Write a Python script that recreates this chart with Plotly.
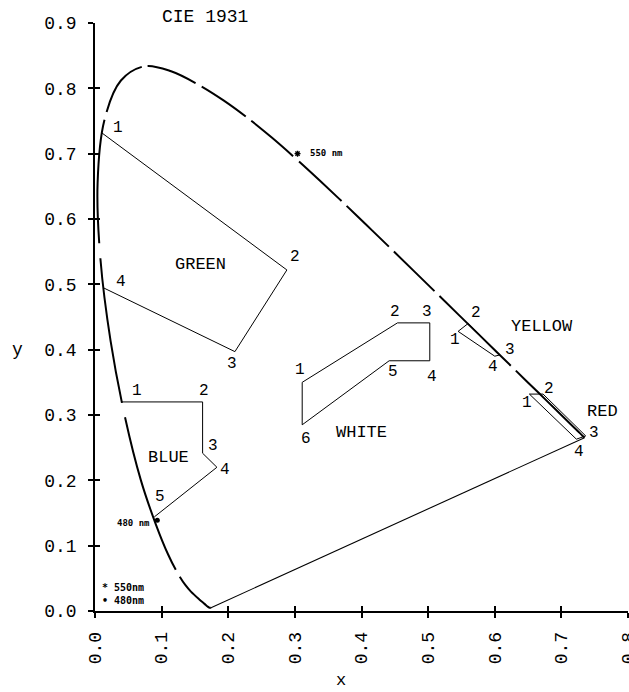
import plotly.graph_objects as go

# ---------------- data ----------------
WAVELENGTH = [380, 390, 400, 410, 420, 430, 440, 450, 460, 465, 470, 475, 480, 485,
              490, 495, 500, 505, 510, 515, 520, 525, 530, 535, 540, 545, 550, 555,
              560, 565, 570, 575, 580, 585, 590, 595, 600, 605, 610, 615, 620, 625,
              630, 635, 640, 645, 650, 660, 670, 680, 690, 700]
LOCUS_X = [0.1741, 0.1738, 0.1733, 0.1726, 0.1714, 0.1689, 0.1644, 0.1566, 0.1440, 0.1355,
           0.1241, 0.1096, 0.0913, 0.0687, 0.0454, 0.0235, 0.0082, 0.0039, 0.0139, 0.0389,
           0.0743, 0.1142, 0.1547, 0.1929, 0.2296, 0.2658, 0.3016, 0.3373, 0.3731, 0.4087,
           0.4441, 0.4788, 0.5125, 0.5448, 0.5752, 0.6029, 0.6270, 0.6482, 0.6658, 0.6801,
           0.6915, 0.7006, 0.7079, 0.7140, 0.7190, 0.7230, 0.7260, 0.7300, 0.7320, 0.7334,
           0.7344, 0.7347]
LOCUS_Y = [0.0050, 0.0049, 0.0048, 0.0048, 0.0051, 0.0069, 0.0109, 0.0177, 0.0297, 0.0399,
           0.0578, 0.0868, 0.1327, 0.2007, 0.2950, 0.4127, 0.5384, 0.6548, 0.7502, 0.8120,
           0.8338, 0.8262, 0.8059, 0.7816, 0.7543, 0.7243, 0.6923, 0.6589, 0.6245, 0.5896,
           0.5547, 0.5202, 0.4866, 0.4544, 0.4242, 0.3965, 0.3725, 0.3514, 0.3340, 0.3197,
           0.3083, 0.2993, 0.2920, 0.2859, 0.2809, 0.2770, 0.2740, 0.2700, 0.2680, 0.2666,
           0.2656, 0.2653]

GREEN_X = [0.010, 0.288, 0.210, 0.012]
GREEN_Y = [0.732, 0.522, 0.397, 0.495]
BLUE_X = [0.040, 0.1615, 0.1615, 0.183, 0.089]
BLUE_Y = [0.320, 0.320, 0.2415, 0.220, 0.144]
WHITE_X = [0.311, 0.454, 0.5025, 0.5025, 0.4415, 0.311]
WHITE_Y = [0.350, 0.441, 0.441, 0.383, 0.383, 0.285]
YELLOW_X = [0.545, 0.560, 0.608, 0.600]
YELLOW_Y = [0.428, 0.440, 0.392, 0.390]
RED_X = [0.652, 0.6725, 0.7365, 0.7225]
RED_Y = [0.332, 0.332, 0.268, 0.263]

REGION_NAMES = ["GREEN", "BLUE", "WHITE", "YELLOW", "RED"]
MARKER_NAMES = ["550 nm", "480 nm"]
MARKER_X = [0.304, 0.0935]
MARKER_Y = [0.700, 0.139]
LEGEND_TEXT = ["550nm", "480nm"]

X_TICKS = [0.0, 0.1, 0.2, 0.3, 0.4, 0.5, 0.6, 0.7, 0.8]
Y_TICKS = [0.0, 0.1, 0.2, 0.3, 0.4, 0.5, 0.6, 0.7, 0.8, 0.9]
TITLE = "CIE 1931"

# ---------------- layout / style ----------------
W, H = 629, 692
ML, MR, MT, MB = 95, 1, 23, 81
X_RANGE = [0.0, 0.8]
Y_RANGE = [0.0, 0.9]
PLOT_W = W - ML - MR
PLOT_H = H - MT - MB
FONT = "Liberation Mono"
SMALL_FONT = "DejaVu Sans Mono"
INK = "black"

# gaps in the spectral locus: (wavelength, start offset px, length px)
LOCUS_GAPS = [(470, -4, 8), (490, 1, 15), (500, 1, 15), (510, 1, 8), (520, -3, 6),
              (530, -3, 7), (540, -3, 7), (550, -4, 8), (560, -3, 7), (570, -3, 7),
              (580, -3, 7), (600, -3, 7)]

# label offsets (px right, px down) for the numbered vertices
LABEL_OFFSETS = {
    "GREEN": [(16, -5), (8, -13), (-3, 12), (18, -6)],
    "BLUE": [(15, -11), (1, -11), (10, -7), (8, 3), (6, -20)],
    "WHITE": [(-2, -12), (-2, -11), (-3, -11), (2, 16), (4, 11), (4, 14)],
    "YELLOW": [(-3, 9), (8, -11), (10, -5), (-2, 11)],
    "RED": [(-2, 9), (6, -5), (8, -3), (3, 13)],
}
REGION_TEXT_POS = {
    "GREEN": (0.159, 0.530), "BLUE": (0.110, 0.235), "WHITE": (0.400, 0.273),
    "YELLOW": (0.6705, 0.436), "RED": (0.762, 0.306),
}

SX = PLOT_W / (X_RANGE[1] - X_RANGE[0])
SY = PLOT_H / (Y_RANGE[1] - Y_RANGE[0])


# ---- replicate plotly's spline to place the locus gaps by arc length ----
def _tangent(p0, p1, p2, s=1.0):
    d1x, d1y = p0[0] - p1[0], p0[1] - p1[1]
    d2x, d2y = p2[0] - p1[0], p2[1] - p1[1]
    d1a = (d1x * d1x + d1y * d1y) ** 0.25
    d2a = (d2x * d2x + d2y * d2y) ** 0.25
    numx = (d2a * d2a * d1x - d1a * d1a * d2x) * s
    numy = (d2a * d2a * d1y - d1a * d1a * d2y) * s
    den1 = 3 * d2a * (d1a + d2a)
    den2 = 3 * d1a * (d1a + d2a)
    a = (p1[0] + (numx / den1 if den1 else 0), p1[1] + (numy / den1 if den1 else 0))
    b = (p1[0] - (numx / den2 if den2 else 0), p1[1] - (numy / den2 if den2 else 0))
    return a, b


def _bez_len(ctrl, n=60):
    def pt(t):
        if len(ctrl) == 3:
            p0, p1, p2 = ctrl
            u = 1 - t
            return (u * u * p0[0] + 2 * u * t * p1[0] + t * t * p2[0],
                    u * u * p0[1] + 2 * u * t * p1[1] + t * t * p2[1])
        p0, p1, p2, p3 = ctrl
        u = 1 - t
        return (u ** 3 * p0[0] + 3 * u * u * t * p1[0] + 3 * u * t * t * p2[0] + t ** 3 * p3[0],
                u ** 3 * p0[1] + 3 * u * u * t * p1[1] + 3 * u * t * t * p2[1] + t ** 3 * p3[1])
    L = 0.0
    prev = pt(0.0)
    for k in range(1, n + 1):
        c = pt(k / n)
        L += ((c[0] - prev[0]) ** 2 + (c[1] - prev[1]) ** 2) ** 0.5
        prev = c
    return L


def spline_arc_lengths(xs, ys):
    pts = [(x * SX, -y * SY) for x, y in zip(xs, ys)]
    n = len(pts)
    tans = [_tangent(pts[i - 1], pts[i], pts[i + 1]) for i in range(1, n - 1)]
    segs = [(pts[0], tans[0][0], pts[1])]
    for i in range(2, n - 1):
        segs.append((pts[i - 1], tans[i - 2][1], tans[i - 1][0], pts[i]))
    segs.append((pts[n - 2], tans[n - 3][1], pts[n - 1]))
    cum = [0.0]
    for sg in segs:
        cum.append(cum[-1] + _bez_len(sg))
    return cum


arc = spline_arc_lengths(LOCUS_X, LOCUS_Y)
dash_parts = []
cur = 0.0
for wl, off, g in LOCUS_GAPS:
    s0 = arc[WAVELENGTH.index(wl)] + off
    dash_parts += [max(s0 - cur, 0.1), g]
    cur = s0 + g
dash_parts += [arc[-1] - cur + 20, 1]
LOCUS_DASH = ",".join(f"{v:.2f}px" for v in dash_parts)

fig = go.Figure()

# line of purples
fig.add_trace(go.Scatter(x=[LOCUS_X[0], LOCUS_X[-1]], y=[LOCUS_Y[0], LOCUS_Y[-1]],
                         mode="lines", line=dict(color=INK, width=1.1),
                         hoverinfo="skip", showlegend=False))
# spectral locus
fig.add_trace(go.Scatter(x=LOCUS_X, y=LOCUS_Y, mode="lines",
                         line=dict(color=INK, width=2, shape="spline", smoothing=1,
                                   simplify=False, dash=LOCUS_DASH),
                         hoverinfo="skip", showlegend=False))

regions = {
    "GREEN": (GREEN_X, GREEN_Y, False),
    "BLUE": (BLUE_X, BLUE_Y, False),
    "WHITE": (WHITE_X, WHITE_Y, True),
    "YELLOW": (YELLOW_X, YELLOW_Y, True),
    "RED": (RED_X, RED_Y, True),
}
annotations = []
for name in REGION_NAMES:
    xs, ys, closed = regions[name]
    px = list(xs) + ([xs[0]] if closed else [])
    py = list(ys) + ([ys[0]] if closed else [])
    fig.add_trace(go.Scatter(x=px, y=py, mode="lines", line=dict(color=INK, width=1),
                             hoverinfo="skip", showlegend=False))
    for i, (vx, vy) in enumerate(zip(xs, ys)):
        dx, dy = LABEL_OFFSETS[name][i]
        annotations.append(dict(x=vx, y=vy, xref="x", yref="y", text=str(i + 1),
                                showarrow=False, xshift=dx, yshift=-dy,
                                xanchor="center", yanchor="middle",
                                font=dict(family=FONT, size=16, color=INK)))
    tx, ty = REGION_TEXT_POS[name]
    annotations.append(dict(x=tx, y=ty, xref="x", yref="y", text=name, showarrow=False,
                            xanchor="center", yanchor="middle",
                            font=dict(family=FONT, size=17, color=INK)))

# wavelength markers
fig.add_trace(go.Scatter(x=[MARKER_X[0]], y=[MARKER_Y[0]], mode="markers",
                         marker=dict(symbol="asterisk-open", size=5, color=INK,
                                     line=dict(color=INK, width=1.4)),
                         hoverinfo="skip", showlegend=False))
fig.add_trace(go.Scatter(x=[MARKER_X[1]], y=[MARKER_Y[1]], mode="markers",
                         marker=dict(symbol="circle", size=5, color=INK),
                         hoverinfo="skip", showlegend=False))
annotations.append(dict(x=MARKER_X[0], y=MARKER_Y[0], xref="x", yref="y",
                        text="<b>" + MARKER_NAMES[0] + "</b>", showarrow=False,
                        xanchor="left", yanchor="middle", xshift=10, yshift=1,
                        font=dict(family=SMALL_FONT, size=9, color=INK)))
annotations.append(dict(x=MARKER_X[1], y=MARKER_Y[1], xref="x", yref="y",
                        text="<b>" + MARKER_NAMES[1] + "</b>", showarrow=False,
                        xanchor="right", yanchor="middle", xshift=-5, yshift=-3,
                        font=dict(family=SMALL_FONT, size=9, color=INK)))

# legend-like key in the corner
for k, (sym, txt) in enumerate(zip(["*", "\u2022"], LEGEND_TEXT)):
    annotations.append(dict(x=(100 - ML) / PLOT_W, y=(24 - 13 * k) / PLOT_H,
                            xref="paper", yref="paper", xanchor="left", yanchor="middle",
                            text="<b>" + sym + " " + txt + "</b>", showarrow=False,
                            font=dict(family=SMALL_FONT, size=10, color=INK)))

# title and axis titles
annotations.append(dict(x=(205 - ML) / PLOT_W, y=1 + (MT - 17) / PLOT_H, xref="paper",
                        yref="paper", text=TITLE, showarrow=False,
                        xanchor="center", yanchor="middle",
                        font=dict(family=FONT, size=18, color=INK)))
annotations.append(dict(x=(17 - ML) / PLOT_W, y=(611 - 350) / PLOT_H, xref="paper",
                        yref="paper", text="y", showarrow=False,
                        xanchor="center", yanchor="middle",
                        font=dict(family=FONT, size=18, color=INK)))
annotations.append(dict(x=(341 - ML) / PLOT_W, y=-(680 - 611) / PLOT_H, xref="paper",
                        yref="paper", text="x", showarrow=False,
                        xanchor="center", yanchor="middle",
                        font=dict(family=FONT, size=17, color=INK)))

# dummy trace for the inner-tick overlay axes
fig.add_trace(go.Scatter(x=[None], y=[None], xaxis="x2", yaxis="y2",
                         hoverinfo="skip", showlegend=False))

axis_common = dict(showgrid=False, zeroline=False, linecolor=INK, linewidth=1.5,
                   tickcolor=INK, tickwidth=1.5, ticklen=5, automargin=False,
                   tickfont=dict(family=FONT, size=18, color=INK))
fig.update_layout(
    width=W, height=H, margin=dict(l=ML, r=MR, t=MT, b=MB, autoexpand=False),
    paper_bgcolor="white", plot_bgcolor="white",
    xaxis=dict(range=X_RANGE, tickvals=X_TICKS, ticktext=[f"{v:.1f}" for v in X_TICKS],
               ticks="outside", showline=True, tickangle=-90, ticklabelstandoff=7,
               ticklabeloverflow="allow", **axis_common),
    yaxis=dict(range=Y_RANGE, tickvals=Y_TICKS, ticktext=[f"{v:.1f}" for v in Y_TICKS],
               ticks="outside", showline=True, ticklabelstandoff=8, **axis_common),
    xaxis2=dict(range=X_RANGE, tickvals=X_TICKS, overlaying="x", anchor="y", side="bottom",
                ticks="inside", showline=False, showticklabels=False, **axis_common),
    yaxis2=dict(range=Y_RANGE, tickvals=Y_TICKS, overlaying="y", anchor="x", side="left",
                ticks="inside", showline=False, showticklabels=False, **axis_common),
    annotations=annotations,
    showlegend=False,
)

fig.write_html("out.html", config={"displayModeBar": False},
               post_script="document.body.style.margin='0';document.body.style.overflow='hidden';")
